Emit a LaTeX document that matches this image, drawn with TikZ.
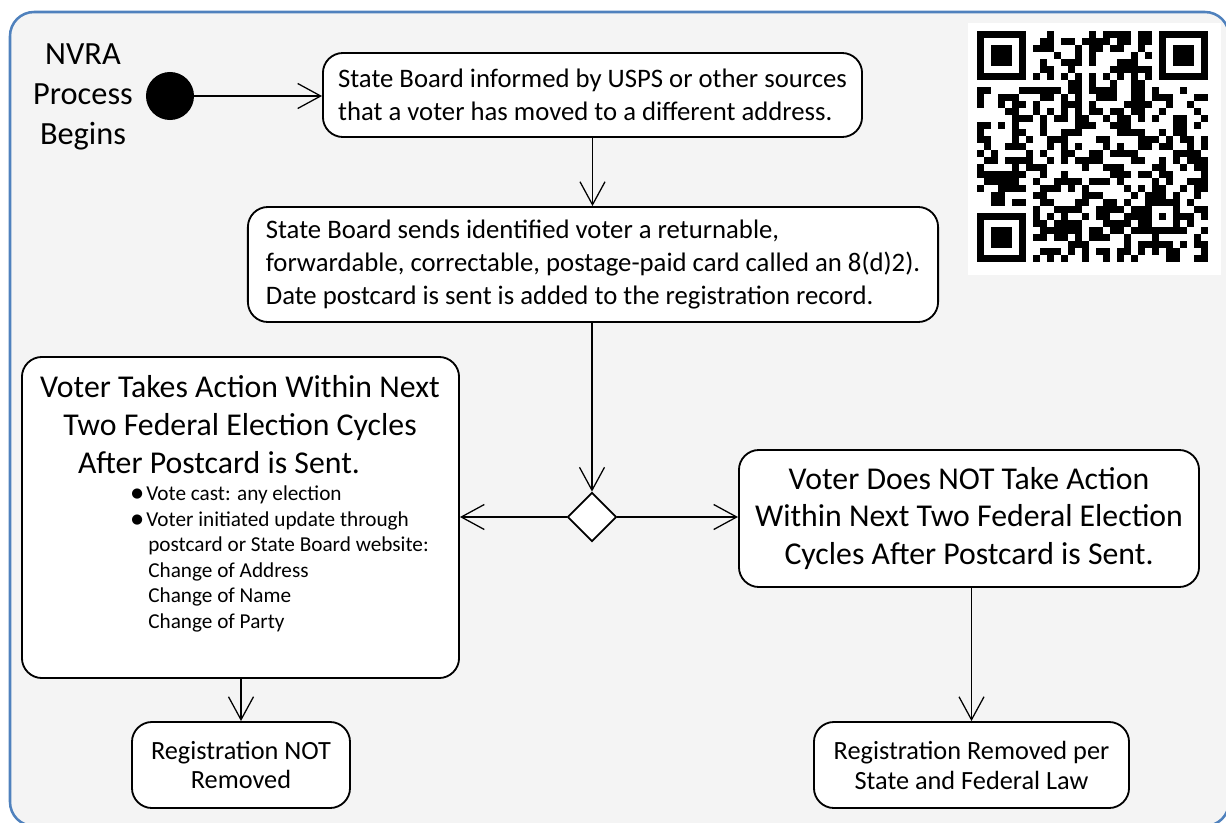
\documentclass[tikz,border=0pt]{standalone}
\usepackage{fontspec}
\setmainfont{Carlito}
\newfontfamily\flsym{DejaVu Sans}
\usetikzlibrary{shapes.geometric}
\usetikzlibrary{arrows.meta}
\definecolor{flframe}{RGB}{79,129,189}
\definecolor{flback}{RGB}{244,244,244}
\newcommand{\flpx}{0.025cm}
\newcommand{\flfntstart}{\fontsize{23pt}{28.5pt}\selectfont}
\newcommand{\flfntbox}{\fontsize{19pt}{23.2pt}\selectfont}
\newcommand{\flfntbig}{\fontsize{22.6pt}{27pt}\selectfont}
\newcommand{\flfntlist}{\fontsize{15.1pt}{18.1pt}\selectfont}
\newcommand{\flfntend}{\fontsize{18.7pt}{21.3pt}\selectfont}
\newcommand{\flqrx}{977}
\newcommand{\flqry}{31}
\newcommand{\flqrm}{7}
\newcommand{\flindent}{\hspace*{0.425cm}}
\newcommand{\flbul}{\makebox[0.375cm][l]{\raisebox{0.3ex}{\flsym\fontsize{9.5pt}{9.5pt}\selectfont ●}}}

\begin{document}
\begin{tikzpicture}[x=\flpx,y=-\flpx,
    actbox/.style={draw,line width=1.3pt,fill=white,rounded corners=0.5cm,
      inner sep=0pt},
    flow/.style={line width=0.9pt,
      -{Straight Barb[length=5.75mm,width=6.25mm]}}]
    \useasboundingbox (0,0) rectangle (1226,823);
    \draw[flframe,line width=1.8pt,fill=flback,rounded corners=0.6cm]
      (10,12) rectangle (1229,826);

    \node (flbegin) at (83,97) [align=center,font=\flfntstart]
      {NVRA\\Process\\Begins};
    \node (flstart) at (170,96) [circle,fill=black,minimum size=1.2cm,
      inner sep=0pt] {};

    \node (flinformed) at (592.5,95) [actbox,minimum width=13.475cm,
      minimum height=2.1cm,align=left,font=\flfntbox]
      {State Board informed by USPS or other sources\\
       that a voter has moved to a different address.};
    \node (flsends) at (593,264.5) [actbox,minimum width=17.25cm,
      minimum height=2.875cm,align=left,font=\flfntbox]
      {State Board sends identified voter a returnable,\\
       forwardable, correctable, postage-paid card called an 8(d)2).\hspace*{0.35cm}\\
       Date postcard is sent is added to the registration record.};

    \node (flchoice) at (592,517) [diamond,draw,line width=1.3pt,fill=white,
      minimum width=1.225cm,minimum height=1.225cm,inner sep=0pt] {};

    \node (fltakes) at (240.5,517.5) [actbox,minimum width=10.925cm,
      minimum height=8.025cm] {};
    \node (fltakestitle) at (240,425) [align=center,font=\flfntbig]
      {Voter Takes Action Within Next\\
       Two Federal Election Cycles\\
       After Postcard is Sent.\hspace*{1.05cm}};
    \node (fltakeslist) at (131,559) [anchor=west,align=left,inner sep=0pt,
      font=\flfntlist]
      {\flbul Vote cast: any election\\
       \flbul Voter initiated update through\\
       \flindent postcard or State Board website:\\
       \flindent Change of Address\\
       \flindent Change of Name\\
       \flindent Change of Party};

    \node (flnottakes) at (969,518.5) [actbox,minimum width=11.5cm,
      minimum height=3.425cm,align=center,font=\flfntbig]
      {Voter Does NOT Take Action\\
       Within Next Two Federal Election\\
       Cycles After Postcard is Sent.};

    \node (flkept) at (241,765) [actbox,minimum width=5.45cm,
      minimum height=2.15cm,align=center,font=\flfntend]
      {Registration NOT\\Removed};
    \node (flremoved) at (971.5,765) [actbox,minimum width=7.875cm,
      minimum height=2.15cm,align=center,font=\flfntend]
      {Registration Removed per\\State and Federal Law};

    \draw[flow] (flstart.east) -- (flstart.east -| flinformed.west);
    \draw[flow] (flinformed.south) -- (flinformed.south |- flsends.north);
    \draw[flow] (flsends.south -| flchoice.north) -- (flchoice.north);
    \draw[flow] (flchoice.east) -- (flchoice.east -| flnottakes.west);
    \draw[flow] (flchoice.west) -- (flchoice.west -| fltakes.east);
    \draw[flow] (fltakes.south -| flkept.north) -- (flkept.north);
    \draw[flow] (flnottakes.south -| flremoved.north) -- (flremoved.north);

    \begin{scope}
      \fill[white] (968,23) rectangle (1221,275);
      \pgfmathsetseed{5173}
      \foreach \qc in {0,...,32}{
        \foreach \qr in {0,...,32}{
          \pgfmathtruncatemacro{\qskip}{or(or(and(\qc<8,\qr<8),
            and(\qc>24,\qr<8)),or(and(\qc<8,\qr>24),
            and(and(\qc>23,\qc<29),and(\qr>23,\qr<29))))}
          \pgfmathtruncatemacro{\qdark}{rnd<0.5}
          \pgfmathtruncatemacro{\qtime}{or(\qc==6,\qr==6)}
          \ifnum\qtime=1
            \pgfmathtruncatemacro{\qdark}{iseven(\qc+\qr)}
          \fi
          \ifnum\qskip=0
            \ifnum\qdark=1
              \fill[black] ({\flqrx+\flqrm*\qc},{\flqry+\flqrm*\qr})
                rectangle ++(7.2,7.2);
            \fi
          \fi
        }
      }
      \foreach \fx/\fy in {0/0,26/0,0/26}{
        \fill[black] ({\flqrx+\flqrm*\fx},{\flqry+\flqrm*\fy})
          rectangle ++(49,49);
        \fill[white] ({\flqrx+\flqrm*\fx+7},{\flqry+\flqrm*\fy+7})
          rectangle ++(35,35);
        \fill[black] ({\flqrx+\flqrm*\fx+14},{\flqry+\flqrm*\fy+14})
          rectangle ++(21,21);
      }
      \fill[black] ({\flqrx+\flqrm*24},{\flqry+\flqrm*24}) rectangle ++(35,35);
      \fill[white] ({\flqrx+\flqrm*25},{\flqry+\flqrm*25}) rectangle ++(21,21);
      \fill[black] ({\flqrx+\flqrm*26},{\flqry+\flqrm*26}) rectangle ++(7,7);
    \end{scope}
\end{tikzpicture}
\end{document}
